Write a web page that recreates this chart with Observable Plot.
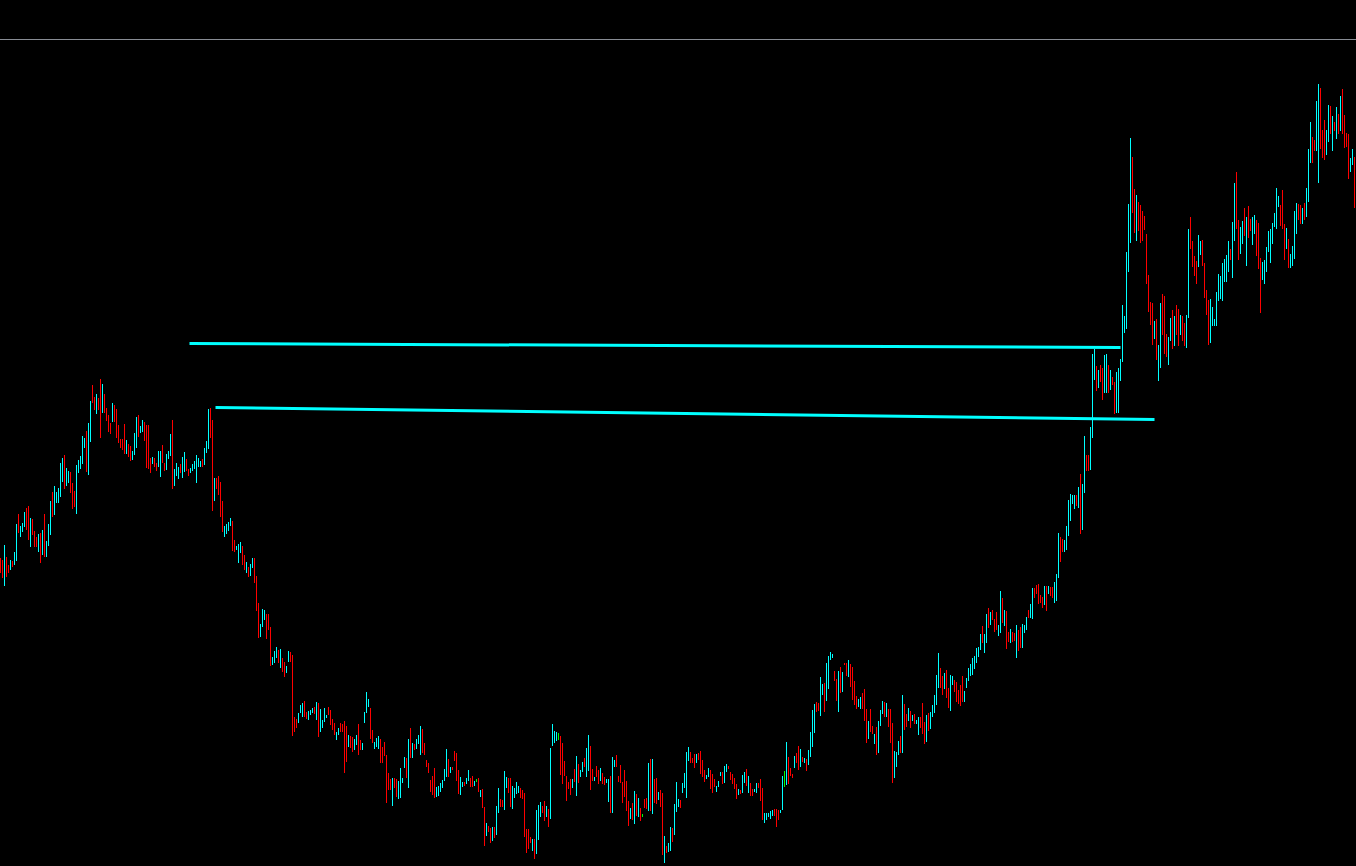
<!DOCTYPE html>
<html><head><meta charset="utf-8">
<script src="https://cdn.jsdelivr.net/npm/d3@7"></script>
<script src="https://cdn.jsdelivr.net/npm/@observablehq/plot@0.6"></script>
<style>
html,body{margin:0;padding:0;background:#000;overflow:hidden;}
#top{height:39px;border-bottom:1px solid #888c94;}
svg{display:block;}
</style></head><body>
<div id="top"></div>
<div id="chart"></div>
<script>
// Bar highs (price points), one per session, left to right
const high = [
308,306,321,309,301,306,305,314,342,352,
340,343,354,358,360,348,347,335,329,332,
333,336,352,325,342,365,374,380,374,378,
403,408,411,398,395,394,383,375,401,406,
410,430,428,435,443,465,481,469,472,468,
487,482,472,458,451,443,463,461,457,441,
427,427,442,426,422,420,415,433,449,451,
440,446,444,441,441,408,409,408,403,415,
415,421,403,412,415,432,446,397,403,399,
402,409,414,407,397,398,402,405,411,408,
405,407,418,425,457,458,446,388,388,390,
384,365,340,342,344,348,345,326,320,322,
324,320,311,304,299,302,308,308,290,263,
242,257,256,252,252,239,209,215,219,216,
217,208,204,200,215,214,211,149,147,153,
161,163,165,154,155,156,158,159,164,163,
157,146,158,151,159,156,147,143,134,138,
143,142,145,140,131,130,129,127,131,142,
126,123,154,174,167,158,136,124,128,130,
127,119,124,111,93,87,88,88,87,85,
98,88,109,108,127,138,123,122,127,131,
140,137,123,106,103,86,90,98,79,80,
83,86,97,117,107,99,99,115,113,96,
89,84,84,88,96,88,90,85,87,88,
76,77,59,43,40,38,39,39,60,78,
67,66,95,89,88,88,80,78,84,80,
78,76,73,37,37,29,27,27,56,61,
64,60,65,60,57,118,142,135,134,133,
130,123,105,90,84,87,87,97,110,102,
96,104,108,118,131,120,97,89,100,96,
98,93,89,87,87,90,109,106,111,90,
101,84,96,85,65,58,63,75,72,68,
58,52,67,68,103,107,107,87,88,74,
76,73,30,20,23,39,38,62,84,67,
66,83,93,114,119,114,108,112,112,113,
115,106,96,91,98,96,92,87,80,85,
94,94,100,102,100,94,92,88,82,77,
76,91,94,97,90,83,77,77,83,83,
87,78,53,53,53,55,56,57,57,56,
56,90,95,124,109,98,92,110,113,120,
117,109,108,107,116,134,156,162,164,163,
189,182,183,203,210,214,212,195,187,195,
199,194,203,203,206,202,199,185,170,167,
169,173,177,157,145,157,140,132,139,145,
156,165,164,163,157,157,143,115,114,125,
130,171,162,152,158,155,151,152,146,149,
149,163,144,151,153,154,161,171,191,213,
198,190,193,196,178,191,190,186,184,176,
181,190,175,188,198,202,208,210,218,219,
232,240,232,252,258,254,256,247,254,241,
275,268,256,255,234,237,234,233,241,236,
239,242,241,249,256,262,278,278,281,282,
271,269,280,280,280,279,279,284,292,333,
329,327,326,340,366,372,371,371,371,379,
392,382,430,411,411,439,512,517,500,496,
501,498,511,512,501,496,489,484,494,498,
507,561,550,614,662,728,709,677,671,664,
661,655,650,632,591,564,563,545,547,521,
563,572,570,532,529,548,556,550,561,557,
551,550,543,551,637,649,625,610,605,631,
625,626,603,576,566,567,559,547,574,592,
590,603,607,611,625,617,644,683,694,646,
639,645,658,649,660,647,649,651,646,643,
608,604,606,619,635,637,643,653,678,670,
661,676,642,638,627,612,620,655,663,662,
661,658,663,678,717,744,729,726,765,782,
778,736,746,736,761,760,750,744,759,752,
770,777,751,733,732,708,717,709
];
// Bar lows
const low = [
293,288,280,289,293,296,299,301,305,333,
329,334,339,336,326,319,331,319,319,314,
303,311,309,309,320,331,349,351,363,363,
369,384,377,380,383,373,357,359,352,393,
397,402,418,394,391,424,463,456,452,456,
428,453,453,445,434,432,444,444,428,423,
418,416,412,412,409,405,406,411,418,429,
433,434,425,398,397,393,402,399,395,399,
389,403,395,396,407,410,377,380,390,387,
393,388,394,395,390,393,395,397,383,399,
399,399,401,413,417,428,355,365,377,371,
349,334,329,332,335,340,315,314,316,303,
313,301,296,293,289,290,298,283,255,228,
229,239,246,227,236,200,201,203,208,203,
198,194,189,193,204,204,130,134,138,143,
153,149,149,147,146,151,153,152,146,129,
134,138,144,148,151,141,136,131,126,131,
134,134,93,104,119,118,114,116,121,111,
116,116,143,153,159,127,123,117,119,117,
103,103,110,63,76,76,60,78,69,67,
68,83,98,88,78,108,108,116,117,122,
111,113,111,99,93,74,71,68,69,70,
74,78,85,89,89,93,96,105,85,72,
71,79,80,82,85,79,79,80,84,74,
69,58,20,30,34,23,25,28,31,53,
59,59,56,78,73,59,57,68,72,73,
68,67,29,13,17,23,15,7,12,26,
49,53,45,49,39,47,120,123,125,126,
91,82,90,65,77,71,78,84,70,83,
89,94,99,89,95,76,85,85,89,82,
85,82,81,83,64,53,53,99,99,84,
83,63,69,55,40,47,46,42,50,49,
45,49,58,57,55,55,52,63,62,66,
59,11,3,13,14,15,24,31,54,59,
58,73,78,68,105,103,103,98,103,106,
92,89,84,87,89,77,73,79,74,79,
90,82,83,94,97,86,82,77,67,71,
72,73,83,80,73,70,70,74,73,78,
65,46,43,46,49,47,50,50,39,46,
53,56,79,81,82,90,88,98,103,96,
99,104,103,95,101,109,119,133,154,155,
150,171,154,165,177,206,208,185,165,154,
173,174,201,190,189,179,166,161,157,159,
157,157,145,123,127,134,132,122,111,113,
140,152,149,149,139,123,83,88,99,111,
113,113,136,139,145,138,145,142,142,131,
138,132,122,124,135,137,149,153,161,178,
178,171,177,168,158,155,181,174,164,162,
160,164,164,178,185,190,191,197,203,209,
216,223,213,223,238,241,246,234,236,230,
233,243,240,217,224,223,224,225,208,215,
218,218,233,236,248,248,247,268,272,262,
263,258,261,255,272,270,268,263,265,288,
304,314,314,316,330,345,362,357,360,358,
332,336,373,395,395,396,428,486,475,478,
484,466,473,473,473,476,481,452,453,453,
485,504,533,537,594,623,653,633,625,635,
623,625,636,582,554,541,521,527,506,485,
498,531,512,509,501,525,517,520,531,520,
531,525,520,518,548,617,599,590,582,599,
611,600,568,551,521,523,540,540,540,565,
567,565,584,584,594,606,588,625,637,606,
612,622,630,600,628,635,621,632,610,597,
553,586,582,594,614,603,622,639,637,659,
640,637,606,617,598,598,600,607,632,646,
642,642,646,649,664,703,703,715,715,683,
717,708,706,711,724,732,715,735,727,732,
735,732,718,719,687,694,701,658
];
// Bar direction: 1 = up (close > open), -1 = down, 0 = unchanged
const dir = [
-1,-1,1,-1,-1,1,-1,1,1,-1,
1,1,1,-1,-1,1,-1,-1,-1,1,
-1,1,-1,1,1,1,-1,1,1,1,
1,1,-1,1,1,-1,-1,-1,1,1,
1,1,1,-1,1,1,-1,-1,1,-1,
-1,1,-1,-1,-1,-1,1,-1,-1,-1,
-1,-1,-1,1,-1,-1,1,1,1,-1,
1,1,-1,-1,-1,-1,1,-1,-1,1,
1,-1,-1,1,1,1,-1,1,1,1,
-1,1,1,-1,-1,1,1,1,1,1,
1,-1,1,1,1,-1,-1,1,-1,-1,
-1,-1,1,1,1,1,-1,-1,1,1,
1,-1,-1,1,-1,1,1,-1,-1,-1,
1,1,1,-1,-1,-1,1,1,1,-1,
1,-1,-1,1,1,-1,-1,-1,-1,1,
1,1,-1,-1,1,1,1,-1,1,-1,
1,1,1,1,-1,-1,-1,-1,1,1,
-1,-1,-1,-1,1,-1,-1,1,1,-1,
-1,1,1,1,1,-1,-1,1,1,1,
-1,-1,-1,-1,-1,-1,1,-1,-1,1,
1,1,1,-1,1,-1,1,-1,1,1,
1,-1,-1,-1,-1,-1,-1,-1,1,1,
1,1,1,1,-1,1,-1,-1,-1,-1,
1,1,-1,1,1,-1,-1,1,0,-1,
1,-1,-1,1,-1,-1,1,-1,1,1,
-1,-1,1,1,-1,-1,1,1,1,1,
-1,-1,-1,-1,-1,-1,1,-1,1,1,
1,-1,-1,1,-1,1,1,1,1,0,
-1,-1,-1,-1,-1,-1,1,-1,1,-1,
1,1,-1,1,1,-1,-1,1,-1,-1,
1,-1,-1,1,1,-1,1,1,-1,-1,
-1,-1,-1,-1,-1,1,-1,1,-1,1,
-1,0,-1,-1,1,-1,1,-1,-1,1,
-1,-1,1,-1,1,1,-1,1,1,1,
-1,1,1,1,1,-1,-1,-1,1,-1,
-1,-1,-1,1,1,-1,-1,-1,1,1,
1,-1,1,1,-1,-1,-1,-1,-1,1,
-1,1,1,-1,1,-1,-1,1,1,-1,
-1,-1,1,1,1,1,1,-1,-1,-1,
1,1,0,1,-1,-1,-1,1,-1,-1,
1,-1,1,-1,1,1,1,1,-1,-1,
1,1,-1,1,1,1,1,-1,-1,1,
-1,1,-1,-1,1,-1,-1,-1,-1,1,
1,-1,-1,-1,1,-1,-1,1,-1,1,
1,1,-1,1,-1,-1,-1,1,1,1,
-1,1,-1,-1,1,-1,1,-1,1,1,
-1,-1,-1,1,-1,1,1,1,1,1,
-1,-1,1,-1,-1,1,1,-1,-1,-1,
-1,-1,1,1,1,1,1,1,1,1,
1,-1,1,1,-1,1,-1,-1,-1,1,
1,-1,1,-1,-1,1,-1,-1,1,-1,
-1,1,1,1,-1,1,1,-1,-1,-1,
-1,-1,1,-1,1,-1,-1,1,1,1,
-1,-1,1,1,1,1,1,1,-1,1,
-1,1,1,-1,-1,1,1,1,-1,1,
-1,-1,1,1,-1,1,-1,-1,1,1,
1,1,1,1,1,1,-1,-1,1,-1,
-1,-1,-1,-1,-1,-1,-1,1,-1,1,
1,-1,-1,-1,1,1,-1,1,-1,-1,
1,-1,-1,1,1,-1,-1,-1,-1,1,
1,-1,-1,-1,-1,1,1,1,1,1,
1,1,1,1,1,-1,1,1,-1,-1,
1,1,-1,1,-1,-1,1,1,-1,-1,
-1,1,1,1,1,1,1,1,1,1,
-1,-1,-1,1,-1,1,1,1,1,-1,
-1,1,-1,1,1,1,-1,-1,1,1,
-1,-1,-1,1,1,-1,1,-1,1,-1,
1,-1,-1,-1,-1,1,1,-1
];
// Two drawn trendlines: start/end bar index and price
const lineStartBar = [94.5, 107.5];
const lineStartPrice = [523, 459];
const lineEndBar = [560, 577];
const lineEndPrice = [519, 447];

const barCount = high.length;
const bars = high.map((h, i) => ({i, high: h, low: low[i], dir: dir[i]}));
const lines = lineStartBar.map((b, k) => ({x1: b, y1: lineStartPrice[k], x2: lineEndBar[k], y2: lineEndPrice[k]}));
const colorOf = d => d.dir > 0 ? "#00FFFF" : d.dir < 0 ? "#FF0000" : "#00FF00";

const chart = Plot.plot({
  width: 1356,
  height: 826,
  margin: 0,
  style: {background: "#000", color: "#fff"},
  x: {type: "linear", domain: [0, barCount], range: [0, 1356], axis: null},
  y: {type: "linear", domain: [0, 826], range: [826, 0], axis: null},
  marks: [
    Plot.ruleX(bars, {x: "i", y1: "low", y2: "high", stroke: colorOf, strokeWidth: 1}),
    Plot.link(lines, {x1: "x1", y1: "y1", x2: "x2", y2: "y2", stroke: "#00FFFF", strokeWidth: 3})
  ]
});
document.getElementById("chart").appendChild(chart);
</script>
</body></html>
